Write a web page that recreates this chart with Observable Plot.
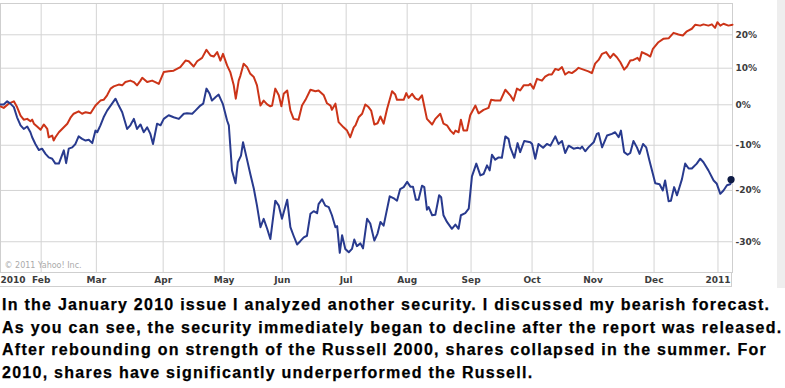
<!DOCTYPE html>
<html>
<head>
<meta charset="utf-8">
<script src="https://cdn.jsdelivr.net/npm/d3@7"></script>
<script src="https://cdn.jsdelivr.net/npm/@observablehq/plot@0.6"></script>
<style>
  html, body { margin: 0; padding: 0; background: #fff; }
  #wrap { position: relative; width: 785px; height: 388px; overflow: hidden; }
  #strip { position: absolute; left: 777px; top: 0; width: 8px; height: 288px; background: #eeeeee; }
  #axisbox { position: absolute; left: 0; top: 272px; width: 731px; height: 14px; border-right: 1px solid #cfcfcf; border-bottom: 1px solid #cfcfcf; }
  #caption { font-family: "Liberation Sans", Arial, sans-serif; font-weight: bold; font-size: 16px; letter-spacing: 1.26px; line-height: 22.6px; color: #000; padding: 6px 0 0 2px; white-space: nowrap; -webkit-text-stroke: 0.25px #000; }
</style>
</head>
<body>
<div id="wrap">
  <div id="chart"></div>
  <div id="axisbox"></div>
  <div id="strip"></div>
  <div id="caption"></div>
</div>
<script>
// x = trading-session index since the chart start, value = % change
const monthTicks = [0, 14, 33, 56, 77, 97, 119, 140, 162, 183, 204, 225, 247];
const monthLabels = ["2010", "Feb", "Mar", "Apr", "May", "Jun", "Jul", "Aug", "Sep", "Oct", "Nov", "Dec", "2011"];
const pctTicks = [20, 10, 0, -10, -20, -30];
const pctLabels = ["20%", "10%", "0%", "-10%", "-20%", "-30%"];
const captionLines = [
  "In the January 2010 issue I analyzed another security. I discussed my bearish forecast.",
  "As you can see, the security immediately began to decline after the report was released.",
  "After rebounding on strength of the Russell 2000, shares collapsed in the summer. For",
  "2010, shares have significantly underperformed the Russell."
];

const russell = [
[0,-0.4],[1.1,-0.8],[2.8,0.3],[4.6,0.9],[5.7,-0.6],[6.9,-2.8],[8.0,-3.8],[9.2,-3.6],[10.3,-4.2],[10.9,-3.8],
[11.5,-4.8],[12.6,-5.5],[13.8,-6.3],[14.9,-5.0],[16.1,-6.1],[16.6,-8.1],[17.8,-7.7],[18.3,-8.9],[18.9,-8.1],[20.1,-6.9],
[21.2,-6.1],[23.0,-4.8],[24.1,-3.3],[25.2,-2.3],[26.9,-1.7],[28.1,-2.3],[29.3,-1.9],[31.0,-2.2],[32.7,-0.2],[34.4,1.1],
[35.5,1.3],[36.7,2.5],[37.9,4.3],[39.0,4.9],[40.7,5.4],[41.9,5.2],[43.0,6.1],[44.7,6.5],[45.9,6.1],[47.0,5.2],
[48.2,6.5],[48.8,7.3],[50.5,6.1],[52.2,6.5],[53.3,6.1],[54.5,5.6],[56.2,8.9],[57.9,9.1],[59.6,9.3],[61.9,10.3],
[63.7,12.2],[64.8,12.0],[66.5,10.5],[67.7,12.0],[69.4,13.0],[70.9,15.4],[72.3,13.7],[73.4,13.4],[74.6,14.7],[75.7,12.2],
[76.6,14.2],[78.0,10.8],[79.1,8.9],[80.3,5.2],[81.0,1.6],[82.0,6.5],[82.6,7.9],[83.7,11.3],[84.9,10.3],[86.0,8.4],
[87.2,7.5],[88.3,5.2],[89.5,-0.2],[90.6,1.1],[91.8,0.1],[92.9,-0.4],[93.5,-0.2],[94.6,4.3],[95.8,2.5],[96.7,-0.4],
[97.5,2.9],[98.7,3.8],[99.8,-1.5],[100.9,-3.6],[102.6,-3.8],[103.8,-0.2],[105.0,1.3],[106.7,4.0],[108.4,3.6],[109.5,3.8],
[111.3,2.5],[112.4,0.4],[113.6,-0.2],[114.1,-1.3],[115.3,0.3],[116.4,-4.4],[118.1,-5.7],[119.3,-6.5],[120.4,-8.1],[121.6,-5.7],
[122.2,-5.2],[123.3,-3.2],[124.5,-2.3],[125.6,0.1],[126.7,-0.6],[127.6,-1.5],[128.7,-5.0],[129.8,-4.7],[130.8,-3.0],[131.9,-4.8],
[133.1,-1.0],[134.8,3.6],[135.9,2.7],[136.5,1.3],[138.8,1.3],[139.7,3.1],[140.5,1.8],[141.7,2.9],[142.8,1.7],[143.9,1.3],
[145.1,2.5],[146.8,-3.6],[148.6,-5.0],[149.7,-3.6],[151.4,-2.3],[152.5,-4.8],[153.7,-5.2],[154.9,-6.5],[156.0,-7.3],[156.6,-6.5],
[157.7,-6.9],[158.5,-3.8],[159.4,-6.5],[160.6,-6.5],[161.7,-2.7],[163.5,-0.2],[164.6,-2.2],[166.3,-1.3],[168.0,-0.8],[168.9,1.3],
[170.3,1.1],[172.1,1.1],[173.8,4.0],[175.5,2.5],[176.6,1.1],[177.8,4.3],[178.9,3.8],[180.1,5.2],[181.8,5.2],[182.4,5.6],
[183.5,4.3],[184.7,7.0],[186.4,6.5],[187.5,7.6],[188.7,8.2],[189.8,8.2],[191.0,9.8],[192.1,9.5],[193.3,10.3],[194.4,8.2],
[195.6,8.9],[196.7,8.6],[197.9,9.3],[199.0,10.1],[200.7,9.6],[202.4,9.1],[203.6,8.6],[204.7,11.3],[205.9,12.4],[207.1,14.2],
[208.5,14.7],[209.9,13.0],[211.0,14.2],[212.2,13.2],[213.4,11.7],[214.7,9.6],[215.7,10.5],[216.8,12.2],[217.9,12.4],[219.3,13.0],
[220.0,12.2],[220.8,14.7],[222.5,14.0],[223.7,13.4],[224.6,15.7],[226.5,17.7],[228.3,18.8],[230.0,18.9],[231.7,20.6],[233.4,20.1],
[234.9,19.8],[236.3,21.1],[238.0,21.9],[239.2,23.2],[240.9,22.9],[242.0,23.3],[243.7,22.9],[244.9,23.3],[246.0,22.2],[246.8,24.0],
[247.8,22.9],[248.9,23.5],[250.6,22.9],[252.0,23.2]
];

const stock = [
[0,0.1],[1.1,0.1],[2.3,0.9],[3.4,0.3],[4.6,-0.6],[5.7,-3.2],[6.9,-5.2],[8.0,-6.1],[9.2,-5.5],[10.3,-6.9],
[10.9,-8.1],[12.0,-9.7],[13.2,-11.1],[14.3,-10.8],[15.5,-12.0],[16.6,-12.8],[17.8,-13.1],[18.9,-14.2],[20.1,-14.2],[20.9,-12.8],
[21.8,-11.2],[22.6,-14.1],[23.5,-10.8],[24.7,-10.5],[25.8,-9.7],[26.9,-7.9],[28.1,-8.5],[29.3,-8.9],[30.4,-8.7],[31.6,-9.5],
[32.7,-6.5],[33.3,-6.9],[34.4,-5.2],[35.5,-3.2],[36.7,-1.5],[38.4,0.3],[39.6,1.6],[40.7,-0.2],[41.9,-1.9],[43.6,-6.1],
[44.7,-5.2],[45.9,-3.6],[47.0,-6.1],[48.2,-5.0],[49.3,-6.9],[50.5,-5.7],[51.6,-7.3],[52.5,-9.7],[53.9,-4.8],[55.1,-5.2],
[56.2,-3.6],[57.9,-2.7],[59.6,-3.2],[61.4,-3.6],[63.1,-2.3],[64.2,-2.2],[66.0,-2.3],[67.1,-1.5],[68.8,-0.2],[69.8,0.3],
[70.9,4.3],[72.0,2.9],[72.8,1.1],[74.0,2.0],[75.1,2.7],[76.6,0.1],[78.0,-4.0],[78.6,-5.2],[79.7,-15.7],[80.9,-18.5],
[81.7,-13.9],[82.8,-12.4],[83.5,-9.3],[84.7,-12.8],[86.0,-16.5],[87.2,-19.6],[88.3,-23.1],[89.5,-27.3],[90.6,-25.7],[91.8,-27.6],
[92.9,-29.5],[94.6,-22.1],[95.8,-23.1],[96.9,-25.7],[98.7,-21.9],[99.8,-27.3],[100.9,-28.9],[102.1,-30.5],[103.2,-29.9],[104.4,-29.2],
[105.5,-28.9],[106.7,-24.7],[107.8,-24.2],[109.0,-24.6],[109.5,-22.8],[110.7,-21.8],[111.8,-23.1],[113.0,-23.4],[114.1,-25.0],[115.3,-27.3],
[115.9,-27.1],[116.8,-32.0],[117.6,-28.8],[118.7,-31.3],[119.9,-31.9],[121.0,-31.3],[121.8,-29.6],[122.7,-30.8],[123.9,-30.3],[124.8,-31.2],
[126.2,-25.7],[127.3,-26.6],[128.7,-29.8],[129.8,-28.5],[130.8,-26.3],[131.9,-27.0],[134.0,-21.2],[135.6,-21.7],[136.5,-22.1],[137.6,-19.7],
[138.8,-19.3],[140.0,-18.2],[141.1,-19.2],[142.0,-19.2],[143.0,-21.9],[143.9,-21.9],[145.1,-19.0],[145.9,-19.3],[146.8,-23.9],[147.4,-23.4],
[148.6,-25.0],[149.7,-24.9],[151.0,-21.0],[151.7,-21.4],[152.5,-25.0],[153.7,-26.3],[155.4,-27.6],[156.6,-26.8],[157.7,-27.6],[158.5,-25.0],
[160.0,-24.6],[161.2,-23.7],[162.3,-17.0],[163.8,-14.2],[165.2,-16.8],[166.3,-16.5],[167.5,-14.6],[168.4,-15.7],[169.2,-12.2],[170.3,-13.3],
[171.5,-12.8],[172.6,-12.9],[173.8,-7.9],[174.9,-8.5],[175.5,-10.5],[176.9,-12.9],[178.0,-9.5],[178.9,-11.6],[180.3,-9.0],[182.4,-9.3],
[183.0,-9.7],[184.1,-13.1],[185.2,-9.7],[186.8,-10.6],[188.1,-9.7],[189.3,-10.1],[191.0,-7.9],[192.1,-9.7],[193.3,-9.0],[194.4,-11.8],
[195.6,-10.1],[197.3,-10.8],[198.7,-10.6],[199.6,-10.8],[200.2,-10.3],[201.3,-11.4],[202.4,-10.5],[204.2,-9.3],[205.3,-7.3],[205.9,-7.1],
[207.1,-10.5],[208.8,-7.7],[210.5,-7.3],[211.6,-6.9],[212.8,-8.1],[213.6,-6.5],[214.7,-11.6],[215.9,-12.2],[216.8,-11.8],[217.9,-9.0],
[219.1,-10.5],[220.0,-12.0],[221.2,-9.7],[222.3,-10.5],[223.4,-13.5],[224.6,-16.5],[225.4,-18.5],[226.9,-18.7],[228.0,-20.0],[228.8,-17.9],
[230.0,-22.2],[230.8,-22.1],[231.9,-19.3],[232.9,-21.0],[234.6,-17.6],[235.7,-14.2],[236.9,-15.3],[238.0,-15.3],[239.7,-14.2],[240.9,-13.1],
[242.0,-13.9],[243.7,-15.7],[245.5,-17.9],[246.6,-18.6],[247.8,-20.7],[248.9,-20.0],[250.1,-18.9],[251.2,-18.7],[252.0,-17.7]
];

const ratio = p => 1 + p / 100;
const labelOf = new Map(monthTicks.map((t, i) => [t, monthLabels[i]]));
const axisFont = { fontSize: 9, fontWeight: "bold", fill: "#3c3c3c", fontFamily: "DejaVu Sans, Verdana, sans-serif" };
const yTickData = pctTicks.map((p, i) => ({ r: ratio(p), label: pctLabels[i] }));

const chart = Plot.plot({
  width: 785,
  height: 288,
  marginLeft: 0,
  marginRight: 53,
  marginTop: 3,
  marginBottom: 16,
  x: { domain: [0, 252], axis: null },
  y: { type: "log", domain: [0.6461, 1.3019], axis: null },
  style: { background: "transparent", overflow: "visible" },
  marks: [
    Plot.ruleX(monthTicks.slice(1), { stroke: "#d4d4d4", strokeWidth: 1 }),
    Plot.ruleY(pctTicks.map(ratio), { stroke: "#d4d4d4", strokeWidth: 1 }),
    Plot.frame({ stroke: "#cfcfcf" }),
    Plot.axisX(monthTicks.slice(1), { tickSize: 0, tickPadding: 4.5, tickFormat: d => labelOf.get(d), ...axisFont }),
    Plot.axisX(monthTicks.slice(0, 1), { tickSize: 0, tickPadding: 4.5, tickFormat: d => labelOf.get(d), textAnchor: "start", ...axisFont }),
    Plot.text(yTickData, { y: "r", text: "label", frameAnchor: "right", dx: 3, textAnchor: "start", lineAnchor: "middle", clip: false, ...axisFont }),
    Plot.text(["\u00a9 2011 Yahoo! Inc."], { frameAnchor: "bottom-left", dx: 4, dy: -5, fill: "#aaaaaa", fontSize: 8, fontFamily: "DejaVu Sans, Verdana, sans-serif", textAnchor: "start" }),
    Plot.line(russell, { x: d => d[0], y: d => ratio(d[1]), stroke: "#cc3418", strokeWidth: 2, strokeLinejoin: "round" }),
    Plot.line(stock, { x: d => d[0], y: d => ratio(d[1]), stroke: "#283a8e", strokeWidth: 2, strokeLinejoin: "round" }),
    Plot.dot(stock.slice(-1), { x: d => d[0] - 0.5, y: d => ratio(d[1]), r: 3.6, fill: "#0d1a44", stroke: "none" })
  ]
});
document.getElementById("chart").appendChild(chart);
document.getElementById("caption").innerHTML = captionLines.map(s => `<div>${s}</div>`).join("");
</script>
</body>
</html>
